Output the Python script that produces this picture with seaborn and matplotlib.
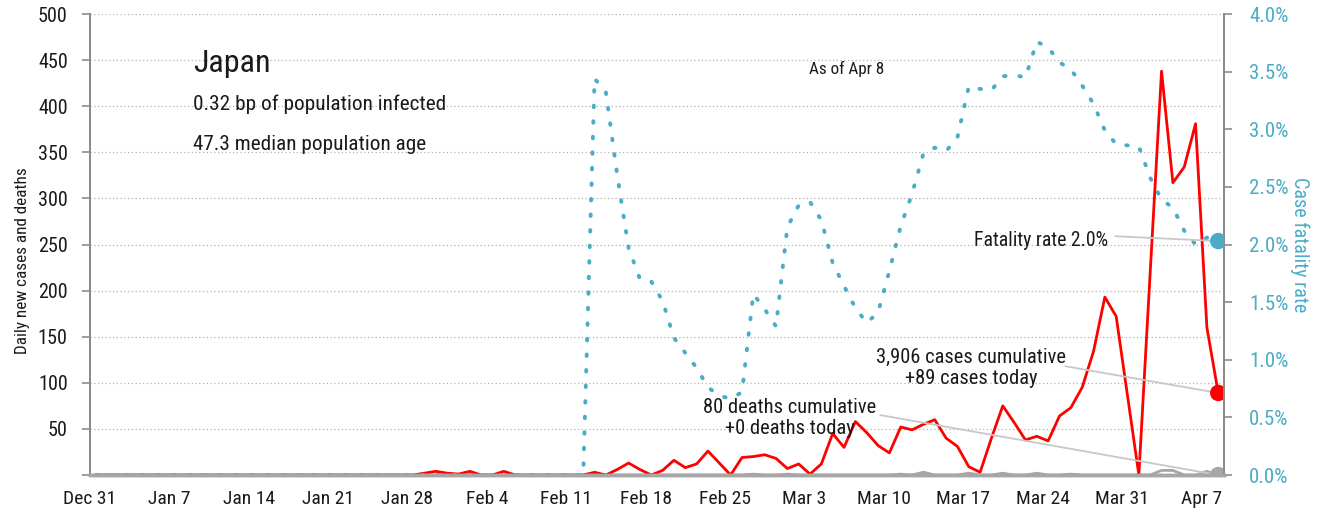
"""
Japan daily new cases / deaths with case fatality rate on a second axis
"""
import numpy as np
import pandas as pd
import matplotlib
matplotlib.use('Agg')  # no display
import matplotlib.pyplot as plt
from matplotlib import font_manager
from matplotlib.ticker import FuncFormatter
import seaborn as sns

# ---- data, one value per day from Dec 31 2019 to Apr 8 2020 ----
first_day = '2019-12-31'
last_day = '2020-04-08'

cases_dec = [0]
cases_jan = [0, 0, 0, 0, 0, 0, 0, 0, 0, 0, 0, 0, 0, 0, 0, 0, 0, 0, 0, 0,
             0, 0, 0, 0, 0, 0, 0, 0, 2, 4, 2]
cases_feb = [1, 4, 0, 0, 4, 0, 0, 0, 0, 0, 0, 0, 3, 0, 6, 13, 6, 0, 5, 16,
             8, 12, 26, 13, 0, 19, 20, 22, 18]
cases_mar = [7, 12, 1, 12, 45, 30, 58, 46, 32, 24, 52, 49, 55, 60, 40, 31,
             9, 3, 40, 75, 57, 38, 42, 37, 64, 73, 95, 134, 193, 172, 86]
cases_apr = [0, 220, 438, 317, 334, 381, 160, 89]

deaths_dec = [0]
deaths_jan = [0, 0, 0, 0, 0, 0, 0, 0, 0, 0, 0, 0, 0, 0, 0, 0, 0, 0, 0, 0,
              0, 0, 0, 0, 0, 0, 0, 0, 0, 0, 0]
deaths_feb = [0, 0, 0, 0, 0, 0, 0, 0, 0, 0, 0, 0, 1, 0, 0, 0, 0, 0, 0, 0,
              0, 0, 0, 0, 0, 0, 1, 0, 0]
deaths_mar = [1, 0, 0, 0, 0, 0, 0, 0, 0, 0, 1, 0, 3, 0, 0, 0, 2, 0, 0, 2,
              0, 0, 2, 0, 0, 1, 0, 0, 0, 0, 0]
deaths_apr = [0, 0, 5, 5, 0, 0, 4, 0]

# case fatality rate in percent
cfr_dec = [0]
cfr_jan = [0, 0, 0, 0, 0, 0, 0, 0, 0, 0, 0, 0, 0, 0, 0, 0, 0, 0, 0, 0,
           0, 0, 0, 0, 0, 0, 0, 0, 0, 0, 0]
cfr_feb = [0, 0, 0, 0, 0, 0, 0, 0, 0, 0, 0, 0, 3.44, 3.32, 2.60, 1.97, 1.70,
           1.68, 1.51, 1.19, 1.06, 0.93, 0.76, 0.69, 0.66, 0.72, 1.57, 1.44,
           1.29]
cfr_mar = [2.15, 2.34, 2.37, 2.21, 1.84, 1.64, 1.45, 1.32, 1.41, 1.77, 2.16,
           2.44, 2.79, 2.84, 2.81, 2.93, 3.37, 3.35, 3.34, 3.46, 3.47, 3.45,
           3.76, 3.71, 3.58, 3.52, 3.38, 3.22, 2.99, 2.87, 2.86]
cfr_apr = [2.85, 2.58, 2.39, 2.32, 2.12, 2.00, 2.06, 2.03]

tick_labels = ['Dec 31', 'Jan 7', 'Jan 14', 'Jan 21', 'Jan 28', 'Feb 4',
               'Feb 11', 'Feb 18', 'Feb 25', 'Mar 3', 'Mar 10', 'Mar 17',
               'Mar 24', 'Mar 31', 'Apr 7']
left_ticks = [0, 50, 100, 150, 200, 250, 300, 350, 400, 450, 500]
right_ticks = [0.0, 0.5, 1.0, 1.5, 2.0, 2.5, 3.0, 3.5, 4.0]

country = 'Japan'
infected_note = '0.32 bp of population infected'
age_note = '47.3 median population age'
as_of = 'As of Apr 8'
total_cases = 3906
total_deaths = 80

RED = '#ff0000'
BLUE = '#4bacc6'
GRAY = '#a6a6a6'
TEXT = '#1a1a1a'


def pick_font():
    """Prefer a narrow sans if one is installed"""
    entries = font_manager.fontManager.ttflist
    names = {f.name for f in entries}
    for name in ['Roboto Condensed', 'Liberation Sans Narrow',
                 'Noto Sans Condensed', 'Open Sans Condensed',
                 'DejaVu Sans Condensed']:
        if name in names:
            return name, 'normal'
    for f in entries:
        if f.name in ('Roboto', 'Noto Sans', 'Open Sans') and 'condensed' in str(f.stretch):
            return f.name, f.stretch
    return 'Roboto', 'normal'


def main():
    sns.set_style('white')
    font_name, font_stretch = pick_font()
    plt.rcParams['font.family'] = [font_name, 'DejaVu Sans']
    plt.rcParams['font.stretch'] = font_stretch
    plt.rcParams['text.color'] = TEXT

    days = pd.date_range(first_day, last_day, freq='D')
    dates = days + pd.Timedelta(hours=12)  # plotted at midday
    cases = np.array(cases_dec + cases_jan + cases_feb + cases_mar + cases_apr)
    deaths = np.array(deaths_dec + deaths_jan + deaths_feb + deaths_mar + deaths_apr)
    cfr = np.array(cfr_dec + cfr_jan + cfr_feb + cfr_mar + cfr_apr) / 100.0

    fig = plt.figure(figsize=(13.23, 5.17), dpi=100)
    ax = fig.add_axes([0.068, 0.0812, 0.8571, 0.8917])
    ax2 = ax.twinx()

    sns.lineplot(x=dates, y=deaths, ax=ax, color=GRAY, linewidth=2)
    sns.lineplot(x=dates, y=cases, ax=ax, color=RED, linewidth=2)
    sns.lineplot(x=dates, y=cfr, ax=ax2, color=BLUE, linewidth=2.8,
                 linestyle=(0, (0.4, 3.6)), dash_capstyle='round')

    # end-point dots
    sns.scatterplot(x=dates[-1:], y=deaths[-1:], ax=ax, color=GRAY, s=140,
                    edgecolor='none', zorder=5)
    sns.scatterplot(x=dates[-1:], y=cases[-1:], ax=ax, color=RED, s=140,
                    edgecolor='none', zorder=5)
    sns.scatterplot(x=dates[-1:], y=cfr[-1:], ax=ax2, color=BLUE, s=140,
                    edgecolor='none', zorder=5)

    # axes limits and ticks
    ax.set_xlim(days[0], days[-1] + pd.Timedelta(days=1))
    ax.set_ylim(0, 500)
    ax2.set_ylim(0, 0.04)
    tick_days = pd.date_range(first_day, periods=len(tick_labels), freq='7D')
    ax.set_xticks(tick_days)
    ax.set_xticklabels(tick_labels)
    ax.set_yticks(left_ticks)
    ax.set_yticklabels([''] + [str(v) for v in left_ticks[1:]])
    ax2.set_yticks([v / 100.0 for v in right_ticks])
    ax2.yaxis.set_major_formatter(FuncFormatter(lambda v, p: f'{v * 100:.1f}%'))

    ax.set_xlabel('')
    ax.set_ylabel('Daily new cases and deaths', fontsize=12.3, color=TEXT)
    ax.yaxis.set_label_coords(-0.053, 0.464)
    ax2.set_ylabel('Case fatality rate', fontsize=14.5, color=BLUE, rotation=270,
                   labelpad=15)

    ax.yaxis.grid(True, linestyle=(0, (1, 2)), color='#b3b3b3', linewidth=0.9)
    ax.xaxis.grid(False)

    for a in (ax, ax2):
        a.spines['top'].set_visible(False)
        a.spines['left'].set_color('#8c8c8c')
        a.spines['right'].set_color('#8c8c8c')
        a.spines['left'].set_linewidth(1.4)
        a.spines['right'].set_linewidth(1.4)
        a.spines['bottom'].set_color(GRAY)
        a.spines['bottom'].set_linewidth(2.5)
    ax.tick_params(axis='x', length=6, width=1.4, color='#8c8c8c',
                   labelsize=14, labelcolor=TEXT, pad=5)
    ax.tick_params(axis='y', length=6, width=1.2, color='#8c8c8c',
                   labelsize=14.5, labelcolor=TEXT, pad=10)
    ax2.tick_params(axis='y', length=6, width=1.2, color='#8c8c8c',
                    labelsize=15, labelcolor=BLUE, pad=12)

    # text block top left
    ax2.text(0.091, 0.874, country, transform=ax2.transAxes, fontsize=23,
             ha='left', va='baseline')
    ax2.text(0.091, 0.792, infected_note, transform=ax2.transAxes,
             fontsize=15.3, ha='left', va='baseline')
    ax2.text(0.091, 0.705, age_note, transform=ax2.transAxes,
             fontsize=15.3, ha='left', va='baseline')
    ax2.text(0.667, 0.87, as_of, transform=ax2.transAxes, fontsize=12.3,
             ha='center', va='baseline')

    # end labels with leader lines
    line_kw = dict(arrowstyle='-', color='#c8c8c8', lw=1.3, shrinkA=0, shrinkB=0)
    ax2.text(0.8977, 0.497, f'Fatality rate {cfr[-1] * 100:.1f}%',
             transform=ax2.transAxes, fontsize=14.2, ha='right', va='baseline')
    ax2.annotate('', xy=(dates[-1], cfr[-1]), xycoords='data',
                 xytext=(0.904, 0.518), textcoords='axes fraction',
                 arrowprops=line_kw)

    ax2.text(0.777, 0.232,
             f'{total_cases:,} cases cumulative\n+{cases[-1]} cases today',
             transform=ax2.transAxes, fontsize=14.8, ha='center', va='center',
             multialignment='center', linespacing=1.1)
    ax.annotate('', xy=(dates[-1], cases[-1]), xycoords='data',
                xytext=(0.860, 0.236), textcoords='axes fraction',
                arrowprops=line_kw)

    ax2.text(0.617, 0.124,
             f'{total_deaths} deaths cumulative\n+{deaths[-1]} deaths today',
             transform=ax2.transAxes, fontsize=14.8, ha='center', va='center',
             multialignment='center', linespacing=1.1)
    ax.annotate('', xy=(dates[-1], deaths[-1]), xycoords='data',
                xytext=(0.697, 0.130), textcoords='axes fraction',
                arrowprops=line_kw)

    fig.savefig('out.png', dpi=100)
    plt.close(fig)


if __name__ == '__main__':
    main()
